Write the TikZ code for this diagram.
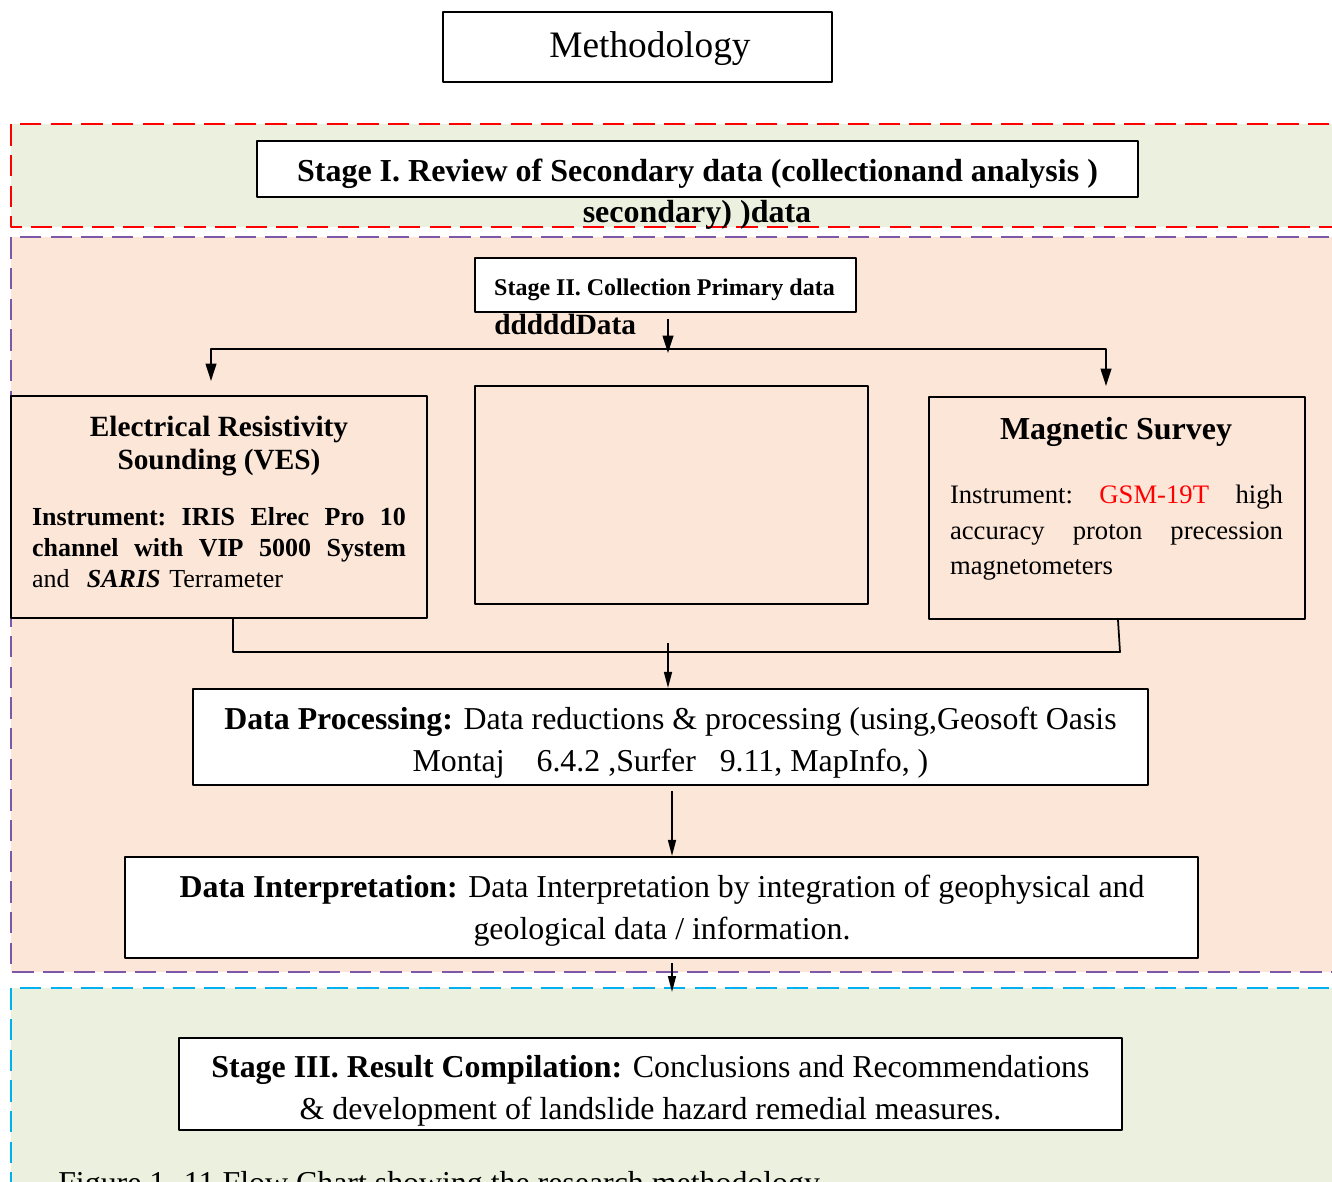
\documentclass[tikz,border=0pt]{standalone}
\usepackage{fontspec}
\setmainfont{Liberation Serif}
\usepackage{tikz}
\usetikzlibrary{arrows.meta,positioning}

\definecolor{stagegreen}{HTML}{EBF1DE}
\definecolor{stagepeach}{HTML}{FCE6D8}
\definecolor{stagepurple}{HTML}{7E57A8}
\definecolor{stagecyan}{HTML}{00B0F0}

\tikzset{
  box/.style={draw, line width=1.6pt, fill=white, inner sep=0pt},
  boxtext/.style={inner sep=0pt, align=center},
  region/.style={dash pattern=on 16pt off 7pt, line width=1.5pt},
  arr/.style={line width=1.4pt, -{Triangle[length=13pt,width=8pt]}},
  thinarr/.style={line width=1.1pt, -{Triangle[length=12pt,width=6pt]}},
  link/.style={line width=1.3pt},
}
% one justified line of a fixed width
\newcommand{\jline}[2]{\leavevmode\hbox to #1{#2}}

\begin{document}
\begin{tikzpicture}[x=0.75pt, y=-0.75pt, line join=round]
      \def\bigfont{\fontsize{23.9}{31.5}\selectfont}
      \def\vesw{280.5pt}
      \def\magw{249.75pt}
      \useasboundingbox (0,0) rectangle (1332,1182);
      \clip (0,0) rectangle (1332,1182);

      % Dashed stage regions (open to the right)
      \fill[stagegreen] (11,124) rectangle (1360,227);
      \draw[region, red] (1360,124) -- (11,124) -- (11,227) -- (1360,227);
      \fill[stagepeach] (11,237) rectangle (1360,972);
      \draw[region, stagepurple] (1360,237) -- (11,237) -- (11,972) -- (1360,972);
      \fill[stagegreen] (11,988) rectangle (1360,1200);
      \draw[region, stagecyan] (1360,988) -- (11,988) -- (11,1200);

      % Title
      \node[box, minimum width=291.75pt, minimum height=52.5pt] (meth) at (637.5,47) {};
      \node[boxtext, font=\fontsize{28}{34}\selectfont] (methtext) at (650,48.5) {Methodology};

      % Stage I
      \node[box, minimum width=660.75pt, minimum height=42pt] (s1) at (697.5,169) {};
      \node[boxtext, font=\bfseries\fontsize{24}{29}\selectfont] (s1text) at (697.5,174)
            {Stage I. Review of Secondary data (collectionand analysis )};
      \node[boxtext, font=\bfseries\fontsize{24}{29}\selectfont] (s1b) at (697,215) {secondary) )data};

      % Stage II
      \node[box, minimum width=285.75pt, minimum height=40.5pt] (s2) at (665.5,285) {};
      \node[boxtext, font=\bfseries\fontsize{18}{22}\selectfont] (s2text) at (664.5,290) {Stage II. Collection Primary data};
      \node[anchor=west, inner sep=0pt, font=\bfseries\fontsize{22}{26}\selectfont] (s2b) at (494,324) {dddddData};

      % Survey boxes
      \node[box, fill=none, minimum width=312pt, minimum height=166.5pt] (ves) at (219,507) {};
      \node[box, fill=none, minimum width=294.75pt, minimum height=163.5pt] (mid) at (671.5,495) {};
      \node[box, fill=none, minimum width=282pt, minimum height=166.5pt] (mag) at (1117,508) {};

      \node[anchor=north, boxtext, font=\bfseries\fontsize{22}{24.75}\selectfont] (vestitle) at (219,416)
            {Electrical Resistivity\\Sounding (VES)};
      \node[anchor=north, inner sep=0pt, text width=\vesw, align=left,
            font=\fontsize{19.5}{23.25}\selectfont] (vesbody) at (219,507)
            {\jline{\vesw}{\bfseries Instrument:\hfill IRIS\hfill Elrec\hfill Pro\hfill 10}\\
             \jline{\vesw}{\bfseries channel\hfill with\hfill VIP\hfill 5000\hfill System}\\
             and\ \ \textbf{\textit{SARIS}} Terrameter};

      \node[anchor=north, inner sep=0pt, font=\bfseries\fontsize{24}{29}\selectfont] (magtitle) at (1116,417)
            {Magnetic Survey};
      \node[anchor=north, inner sep=0pt, text width=\magw, align=left,
            font=\fontsize{20}{26.6}\selectfont] (magbody) at (1116.5,485)
            {\jline{\magw}{Instrument:\hfill \textcolor{red}{GSM-19T}\hfill high}\\
             \jline{\magw}{accuracy\hfill proton\hfill precession}\\
             magnetometers};

      % Processing and interpretation
      \node[box, minimum width=716.25pt, minimum height=72pt] (proc) at (670.5,737) {};
      \node[boxtext, font=\bigfont] (proctext) at (670.5,743)
            {\textbf{Data Processing:} Data reductions \& processing (using,Geosoft Oasis\\
             Montaj\ \ \ \ 6.4.2 ,Surfer\ \ \ 9.11, MapInfo, )};
      \node[box, minimum width=804.75pt, minimum height=75.75pt] (interp) at (661.5,907.5) {};
      \node[boxtext, font=\bigfont] (interptext) at (662,910.5)
            {\textbf{Data Interpretation:} Data Interpretation by integration of geophysical and\\
             geological data / information.};

      % Stage III
      \node[box, minimum width=707.25pt, minimum height=69pt] (s3) at (650.5,1084) {};
      \node[boxtext, font=\bigfont] (s3text) at (650.5,1091)
            {\textbf{Stage III. Result Compilation:} Conclusions and Recommendations\\
             \& development of landslide hazard remedial measures.};
      \node[anchor=base west, inner sep=0pt, font=\bigfont] (caption) at (58,1193)
            {Figure 1. 11 Flow Chart showing the research methodology};

      % Branch lines
      \coordinate (split) at (668,349);
      \coordinate (splittip) at (668,353);
      \coordinate (vesin) at (211,381);
      \coordinate (magin) at (1106,386);
      \draw[arr, shorten <=4.5pt] (s2.south -| split) -- (splittip);
      \draw[arr] (split) -| (vesin);
      \draw[arr] (split) -| (magin);

      % Merge lines
      \coordinate (joinl) at (233,652);
      \coordinate (joinr) at (1120,652);
      \coordinate (mergetop) at (668,643);
      \draw[link] (ves.south -| joinl) -- (joinl) -- (joinr) -- ([xshift=-1.5pt]mag.south -| joinr);
      \draw[thinarr] (mergetop) -- (proc.north -| mergetop);
      \draw[thinarr, shorten <=3.75pt] (proc.south -| 672,0) -- (interp.north -| 672,0);
      \coordinate (s3in) at (672,992);
      \draw[thinarr, shorten <=3pt] (interp.south -| s3in) -- (s3in);
\end{tikzpicture}
\end{document}
